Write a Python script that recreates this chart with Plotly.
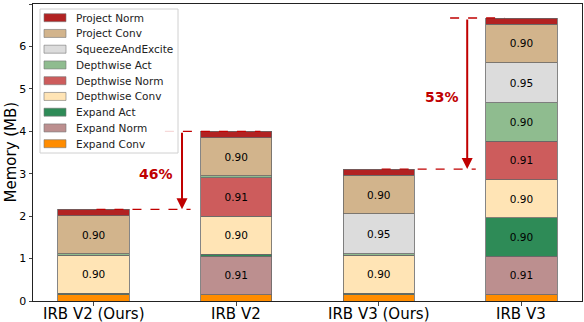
import plotly.graph_objects as go

categories = ["IRB V2 (Ours)", "IRB V2", "IRB V3 (Ours)", "IRB V3"]
x_pos = [0, 1, 2, 3]

series_names = ["Expand Conv", "Expand Norm", "Expand Act", "Depthwise Conv",
                "Depthwise Norm", "Depthwise Act", "SqueezeAndExcite",
                "Project Conv", "Project Norm"]
expand_conv = [0.15, 0.15, 0.15, 0.15]
expand_norm = [0, 0.91, 0, 0.91]
expand_act = [0.03, 0.04, 0.03, 0.90]
depthwise_conv = [0.90, 0.90, 0.90, 0.90]
depthwise_norm = [0, 0.91, 0, 0.91]
depthwise_act = [0.03, 0.04, 0.03, 0.90]
squeeze_excite = [0, 0, 0.95, 0.95]
project_conv = [0.90, 0.90, 0.90, 0.90]
project_norm = [0.15, 0.15, 0.15, 0.15]

series_values = [expand_conv, expand_norm, expand_act, depthwise_conv,
                 depthwise_norm, depthwise_act, squeeze_excite,
                 project_conv, project_norm]
colors = ["#ff8c00", "#bc8f8f", "#2e8b57", "#ffe4b5", "#cd5c5c",
          "#8fbc8f", "#dcdcdc", "#d2b48c", "#b22222"]

reductions = ["46%", "53%"]

W, H = 584, 322
ML, MR, MT, MB = 33, 2, 4, 21
PW, PH = W - ML - MR, H - MT - MB


def px_x(p):
    return (p - ML) / PW


def px_y(p):
    return (H - MB - p) / PH


fig = go.Figure()
for name, vals, col in zip(series_names, series_values, colors):
    fig.add_trace(go.Bar(
        x=x_pos, y=[v if v > 0 else None for v in vals], name=name,
        marker=dict(color=col, line=dict(color="#666666", width=0.8)),
        width=0.5, showlegend=False,
        text=[f"{v:.2f}" if v >= 0.5 else "" for v in vals],
        textposition="inside", insidetextanchor="middle",
        textfont=dict(color="black", size=10.5, family="DejaVu Sans"),
        constraintext="none",
    ))

totals = [sum(s[i] for s in series_values) for i in range(4)]
red = "#c00000"

# (ours index, baseline index, upper dashed extents relative to baseline)
pairs = [(0, 1, (-0.5, 0.17)), (2, 3, (-0.5, -0.12))]
for (ours, base, ext), txt in zip(pairs, reductions):
    low = totals[ours]
    high = totals[base]
    arrow_x = ours + 0.62
    fig.add_shape(type="line", xref="x", yref="y", x0=ours + 0.02, x1=ours + 0.68,
                  y0=low, y1=low, line=dict(color=red, width=1.3, dash="dash"), layer="above")
    fig.add_shape(type="line", xref="x", yref="y", x0=base + ext[0], x1=base + ext[1],
                  y0=high, y1=high, line=dict(color=red, width=1.3, dash="dash"), layer="above")
    fig.add_annotation(x=arrow_x, y=low, ax=arrow_x, ay=high, xref="x", yref="y",
                       axref="x", ayref="y", showarrow=True, arrowhead=2,
                       arrowsize=1.1, arrowwidth=2, arrowcolor=red, text="")
    fig.add_annotation(x=ours + 0.44, y=(low + high) / 2 - 0.08, xref="x", yref="y",
                       text=f"<b>{txt}</b>", showarrow=False,
                       font=dict(color=red, size=14, family="DejaVu Sans"))

# Legend box (manual, matplotlib-like)
fig.add_shape(type="rect", xref="paper", yref="paper",
              x0=px_x(40), x1=px_x(178), y0=px_y(153), y1=px_y(9),
              line=dict(color="#d0d0d0", width=1), fillcolor="rgba(255,255,255,0.85)",
              layer="above")
row0, dy = 17.7, 15.75
for i, (name, col) in enumerate(zip(series_names[::-1], colors[::-1])):
    cy = row0 + i * dy
    fig.add_shape(type="rect", xref="paper", yref="paper",
                  x0=px_x(44), x1=px_x(66), y0=px_y(cy + 4), y1=px_y(cy - 4),
                  fillcolor=col, line=dict(color="#777777", width=0.6), layer="above")
    fig.add_annotation(x=px_x(74), y=px_y(cy), xref="paper", yref="paper",
                       text=name, showarrow=False, xanchor="left", yanchor="middle",
                       font=dict(size=10.5, family="DejaVu Sans", color="#222222"))

# X tick labels (placed as text below each tick)
for xp, cat in zip(x_pos, categories):
    fig.add_annotation(x=xp, y=px_y(314), xref="x", yref="paper", text=cat,
                       showarrow=False, xanchor="center", yanchor="middle",
                       font=dict(size=15, family="DejaVu Sans", color="black"))

# Y axis title
fig.add_annotation(x=px_x(10), y=0.5, xref="paper", yref="paper",
                   text="Memory (MB)", textangle=-90, showarrow=False,
                   xanchor="center", yanchor="middle",
                   font=dict(size=15, family="DejaVu Sans", color="black"))

fig.update_layout(
    barmode="stack",
    width=W, height=H,
    margin=dict(l=ML, r=MR, t=MT, b=MB),
    plot_bgcolor="white", paper_bgcolor="white",
    font=dict(family="DejaVu Sans", color="black"),
    showlegend=False,
)
fig.update_xaxes(range=[-0.425, 3.425], tickvals=x_pos, showticklabels=False,
                 showline=True, linecolor="#222222", linewidth=1, mirror=True,
                 ticks="outside", ticklen=3.5,
                 showgrid=False, zeroline=False, automargin=False)
fig.update_yaxes(range=[0, 7], dtick=1, showline=True, linecolor="#222222",
                 linewidth=1, mirror=True, ticks="outside", ticklen=3.5,
                 tickfont=dict(size=11), showgrid=False, zeroline=False,
                 automargin=False)

fig.write_html("out.html", config={"displayModeBar": False},
               post_script="document.body.style.margin='0';document.body.style.padding='0';")
